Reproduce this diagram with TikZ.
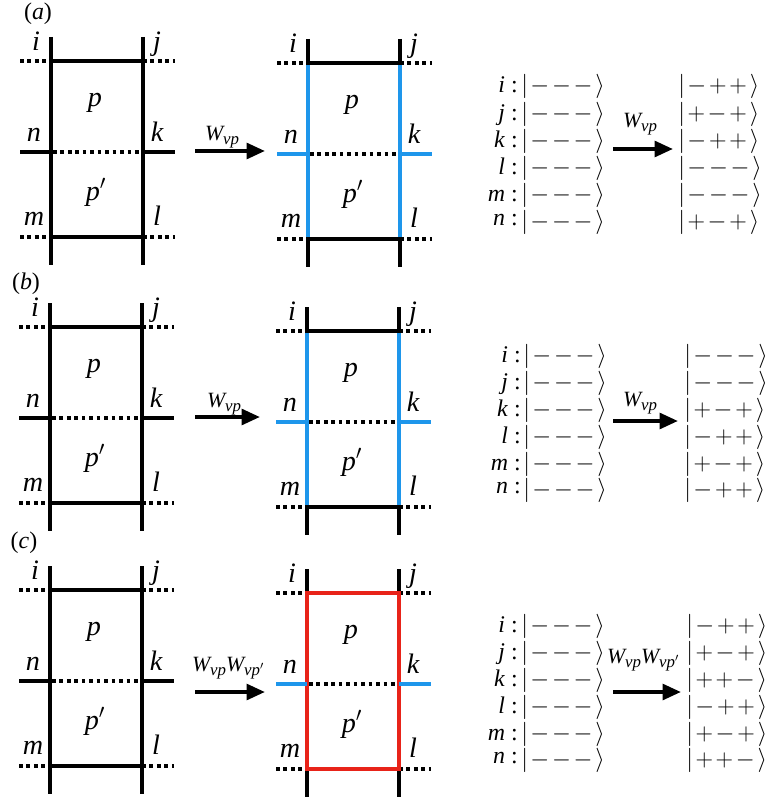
\documentclass[tikz,border=0pt]{standalone}
\usepackage{fontspec}
\setmainfont{Liberation Serif}
\usepackage{tikz}
\usetikzlibrary{arrows.meta}

\definecolor{cblue}{RGB}{30,150,235}
\definecolor{cred}{RGB}{232,35,25}

% ket with three spin signs, and an operator W with subscript
\newcommand{\ket}[3]{{\fontsize{17.5}{18}\selectfont$\vert\kern.1em{#1}\kern.11em{#2}\kern.11em{#3}\kern.12em\rangle$}}
\newcommand{\Wop}[1]{\textit{W}\kern-.08em\raisebox{-.45ex}{\fontsize{12}{12}\selectfont\textit{#1}}}

\begin{document}
\begin{tikzpicture}[
  x=0.025cm, y=-0.025cm,
  every node/.style={inner sep=0pt},
  lbl/.style={font=\fontsize{20}{20}\selectfont\itshape, text height=.7em, text depth=.2em},
  ket/.style={font=\fontsize{17}{17}\selectfont, text height=.6em, text depth=.2em},
  wlbl/.style={font=\fontsize{15.5}{16}\selectfont},
  tag/.style={font=\fontsize{17}{17}\selectfont},
  bond/.style={line width=2.5pt},
  edge/.style={line width=2.5pt, line cap=rect},
  dots/.style={line width=2.6pt, dash pattern=on 2.6pt off 2.7pt},
  arr/.style={line width=2.8pt, -{Triangle[length=13pt,width=11pt]}},
]
  \useasboundingbox (0,0) rectangle (770,800);

  % panel tags
  \node[tag] (tag-a) at (38,14) {(\textit{a})};
  \node[tag] (tag-b) at (26,284) {(\textit{b})};
  \node[tag] (tag-c) at (24,543) {(\textit{c})};

  % plaquettes p, p' : name/x/y/vertical/horizontal/stub colours
  \foreach \pn/\x/\y/\vc/\hc/\sc in {aL/51/61/black/black/black,
      aR/308/63/cblue/black/cblue, bL/50/327/black/black/black,
      bR/307/331/cblue/black/cblue, cL/50/590/black/black/black,
      cR/307/593/cred/cred/cblue} {
    \draw[dots] (\x-31,\y) -- (\x,\y) (\x+92,\y) -- (\x+124,\y)
                (\x-31,\y+176) -- (\x,\y+176) (\x+92,\y+176) -- (\x+124,\y+176)
                (\x+2,\y+91) -- (\x+91,\y+91);
    \draw[bond] (\x,\y-24) -- (\x,\y) (\x+92,\y-24) -- (\x+92,\y)
                (\x,\y+176) -- (\x,\y+204) (\x+92,\y+176) -- (\x+92,\y+204);
    \draw[bond, \vc] (\x,\y) -- (\x,\y+176) (\x+92,\y) -- (\x+92,\y+176);
    \draw[edge, \hc] (\x,\y) -- (\x+92,\y) (\x,\y+176) -- (\x+92,\y+176);
    \draw[bond, \sc] (\x-31,\y+91) -- (\x,\y+91) (\x+92,\y+91) -- (\x+124,\y+91);
    \node[lbl] (\pn-i) at (\x-15,\y-14) {i};
    \node[lbl] (\pn-j) at (\x+106,\y-14) {j};
    \node[lbl] (\pn-n) at (\x-17,\y+77) {n};
    \node[lbl] (\pn-k) at (\x+106,\y+77) {k};
    \node[lbl] (\pn-m) at (\x-17,\y+161) {m};
    \node[lbl] (\pn-l) at (\x+106,\y+161) {l};
    \node[lbl] (\pn-p) at (\x+44,\y+42) {p};
    \node[lbl] (\pn-pp) at (\x+45,\y+136) {p$'$};
  }

  % arrows between plaquettes
  \coordinate (a-s) at (195,151);  \coordinate (a-e) at (265,151);
  \coordinate (b-s) at (195,417);  \coordinate (b-e) at (260,417);
  \coordinate (c-s) at (195,692);  \coordinate (c-e) at (265,692);
  \draw[arr] (a-s) -- (a-e);
  \draw[arr] (b-s) -- (b-e);
  \draw[arr] (c-s) -- (c-e);
  \node[wlbl] (a-w) at (222,137) {\Wop{νp}};
  \node[wlbl] (b-w) at (224,404) {\Wop{νp}};
  \node[wlbl] (c-w) at (228,668) {\Wop{νp}\Wop{νp$'$}};

  % spin states (a)
  \foreach \nm/\s/\t/\u/\dy [count=\r from 0] in {i/-/+/+/0, j/+/-/+/0,
      k/-/+/+/0, l/-/-/-/0, m/-/-/-/0, n/+/-/+/-3} {
    \node[ket, anchor=east] (a-\nm) at (518,90+27.2*\r+\dy) {\textit{\nm} :};
    \node[ket, anchor=west] (a-\nm-in) at (521,90+27.2*\r) {\ket{-}{-}{-}};
    \node[ket, anchor=west] (a-\nm-out) at (678,90+27.2*\r) {\ket{\s}{\t}{\u}};
  }
  \coordinate (ak-s) at (613,149);  \coordinate (ak-e) at (673,149);
  \draw[arr] (ak-s) -- (ak-e);
  \node[wlbl] (ak-w) at (640,124) {\Wop{νp}};

  % spin states (b)
  \foreach \nm/\s/\t/\u/\dy [count=\r from 0] in {i/-/-/-/0, j/-/-/-/0,
      k/+/-/+/0, l/-/+/+/0, m/+/-/+/0, n/-/+/+/-3} {
    \node[ket, anchor=east] (b-\nm) at (521,360+26.8*\r+\dy) {\textit{\nm} :};
    \node[ket, anchor=west] (b-\nm-in) at (523,360+26.8*\r) {\ket{-}{-}{-}};
    \node[ket, anchor=west] (b-\nm-out) at (684,360+26.8*\r) {\ket{\s}{\t}{\u}};
  }
  \coordinate (bk-s) at (613,421);  \coordinate (bk-e) at (678,421);
  \draw[arr] (bk-s) -- (bk-e);
  \node[wlbl] (bk-w) at (640,403) {\Wop{νp}};

  % spin states (c)
  \foreach \nm/\s/\t/\u/\dy [count=\r from 0] in {i/-/+/+/0, j/+/-/+/0,
      k/+/+/-/0, l/-/+/+/0, m/+/-/+/0, n/+/+/-/-3} {
    \node[ket, anchor=east] (c-\nm) at (518,630+26.8*\r+\dy) {\textit{\nm} :};
    \node[ket, anchor=west] (c-\nm-in) at (521,630+26.8*\r) {\ket{-}{-}{-}};
    \node[ket, anchor=west] (c-\nm-out) at (686,630+26.8*\r) {\ket{\s}{\t}{\u}};
  }
  \coordinate (ck-s) at (613,692);  \coordinate (ck-e) at (681,692);
  \draw[arr] (ck-s) -- (ck-e);
  \node[wlbl] (ck-w) at (643,660) {\Wop{νp}\Wop{νp$'$}};
\end{tikzpicture}
\end{document}
